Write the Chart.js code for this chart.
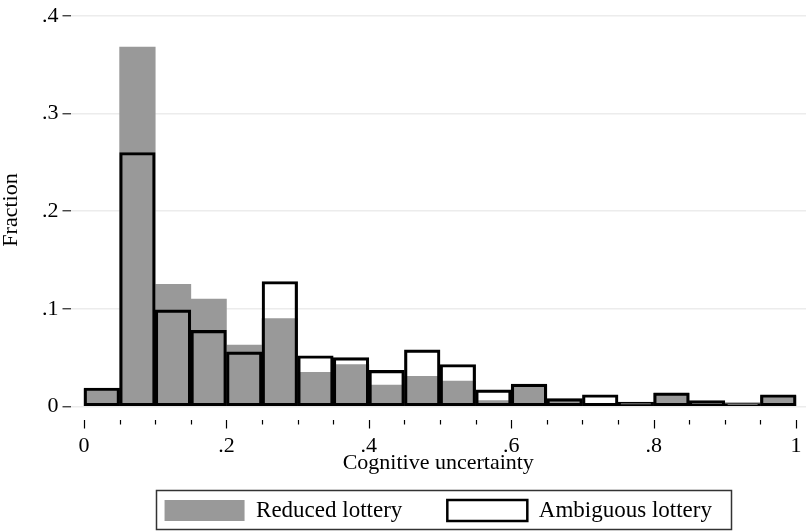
<!DOCTYPE html>
<html>
<head>
<meta charset="utf-8">
<title>Cognitive uncertainty histogram</title>
<script src="https://cdn.jsdelivr.net/npm/chart.js@4.4.0/dist/chart.umd.min.js"></script>
<style>
  html, body { margin: 0; padding: 0; background: #fff; }
  #wrap { width: 806px; height: 532px; }
</style>
</head>
<body>
<div id="wrap"><canvas id="hist" width="806" height="532"></canvas></div>
<script>
// bin midpoints, bins are 0.05 wide
const binCenters = [0.025, 0.075, 0.125, 0.175, 0.225, 0.275, 0.325, 0.375, 0.425, 0.475,
                    0.525, 0.575, 0.625, 0.675, 0.725, 0.775, 0.825, 0.875, 0.925, 0.975];
const reducedFrac = [0.018, 0.368, 0.125, 0.110, 0.063, 0.090, 0.035, 0.043, 0.022, 0.031,
                     0.026, 0.006, 0.022, 0.0075, 0.002, 0.003, 0.0135, 0.003, 0.004, 0.011];
const ambiguousFrac = [0.019, 0.260, 0.099, 0.078, 0.056, 0.128, 0.052, 0.050, 0.037, 0.058,
                       0.043, 0.017, 0.023, 0.008, 0.012, 0.0045, 0.014, 0.006, 0.003, 0.012];
const xTicks = [0, 0.2, 0.4, 0.6, 0.8, 1];
const yTicks = [0, 0.1, 0.2, 0.3, 0.4];
const seriesNames = ['Reduced lottery', 'Ambiguous lottery'];

const FONT = 'Liberation Serif';

function stataLabel(v) {
  // stata style: drop the leading zero
  var s = String(+v.toFixed(2));
  return s.replace(/^0\./, '.');
}

function toPoints(vals) {
  return binCenters.map(function (c, i) { return {x: c, y: vals[i]}; });
}

function isMajor(v) {
  return xTicks.some(function (m) { return Math.abs(m - v) < 1e-6; });
}

// minor ticks every 0.05, longer ones where a label sits
const xTickMarks = {
  id: 'xTickMarks',
  afterDraw(chart) {
    var xs = chart.scales.x, ctx = chart.ctx, bottom = chart.chartArea.bottom;
    ctx.save();
    ctx.strokeStyle = '#000';
    ctx.lineWidth = 1.2;
    xs.ticks.forEach(function (t) {
      var px = Math.round(xs.getPixelForValue(t.value)) + 0.5;
      ctx.beginPath();
      ctx.moveTo(px, bottom);
      ctx.lineTo(px, bottom + (isMajor(t.value) ? 8.5 : 4.5));
      ctx.stroke();
    });
    ctx.restore();
  }
};

// frame round the legend
const legendFrame = {
  id: 'legendFrame',
  afterDraw(chart) {
    var boxes = chart.legend && chart.legend.legendHitBoxes;
    if (!boxes || !boxes.length) return;
    var l = Infinity, r = -Infinity, t = Infinity, b = -Infinity;
    boxes.forEach(function (h) {
      l = Math.min(l, h.left); r = Math.max(r, h.left + h.width);
      t = Math.min(t, h.top); b = Math.max(b, h.top + h.height);
    });
    var ctx = chart.ctx;
    ctx.save();
    ctx.strokeStyle = '#333';
    ctx.lineWidth = 1.5;
    ctx.strokeRect(Math.round(l - 9) + 0.5, Math.round(t - 9) + 0.5, Math.round(r - l + 28), Math.round(b - t + 16));
    ctx.restore();
  }
};

const ctx = document.getElementById('hist').getContext('2d');
const histChart = new Chart(ctx, {
  type: 'bar',
  data: {
    datasets: [{
      label: seriesNames[0],
      data: toPoints(reducedFrac),
      backgroundColor: '#999999',
      borderWidth: 0,
      grouped: false,
      order: 2,
      barPercentage: 1,
      categoryPercentage: 1
    }, {
      label: seriesNames[1],
      data: toPoints(ambiguousFrac),
      backgroundColor: 'rgba(0,0,0,0)',
      borderColor: '#000',
      borderWidth: 2.5,
      borderSkipped: false,
      grouped: false,
      order: 1,
      barPercentage: 1,
      categoryPercentage: 1
    }]
  },
  options: {
    responsive: false,
    animation: false,
    layout: { padding: 0 },
    scales: {
      x: {
        type: 'linear',
        offset: false,
        min: -0.019,
        max: 1.014,
        grid: { display: false, drawTicks: false },
        border: { display: false },
        ticks: {
          stepSize: 0.05,
          includeBounds: false,
          autoSkip: false,
          maxRotation: 0,
          padding: 13,
          color: '#000',
          font: { family: FONT, size: 22 },
          callback: function (v) { return isMajor(v) ? stataLabel(v) : ''; }
        },
        title: {
          display: true,
          text: 'Cognitive uncertainty',
          color: '#000',
          font: { family: FONT, size: 22 },
          padding: { top: 0, bottom: -22.2 }
        },
        afterFit: function (s) {
          s.height = 34;
          s.paddingLeft = 0; s.paddingRight = 0;
        }
      },
      y: {
        min: -0.0138,
        max: 0.4161,
        grid: { color: '#ececec', lineWidth: 1.5, drawTicks: true, tickLength: 8, tickColor: '#333', tickWidth: 1.3 },
        border: { display: false },
        afterBuildTicks: function (s) {
          s.ticks = yTicks.map(function (v) { return {value: v}; });
        },
        ticks: {
          padding: 4,
          color: '#000',
          font: { family: FONT, size: 22 },
          callback: function (v) { return stataLabel(v); }
        },
        title: {
          display: true,
          text: 'Fraction',
          color: '#000',
          font: { family: FONT, size: 22 },
          padding: { top: -2, bottom: 0 }
        },
        afterFit: function (s) {
          s.width = 70.5;
          s.paddingTop = 0; s.paddingBottom = 0;
        }
      }
    },
    plugins: {
      legend: {
        position: 'bottom',
        fullSize: false,
        labels: {
          boxWidth: 80,
          boxHeight: 21,
          padding: 45,
          color: '#000',
          font: { family: FONT, size: 23 },
          sort: function (a, b) { return a.datasetIndex - b.datasetIndex; }
        }
      },
      tooltip: { enabled: false }
    }
  },
  plugins: [xTickMarks, legendFrame]
});
</script>
</body>
</html>
